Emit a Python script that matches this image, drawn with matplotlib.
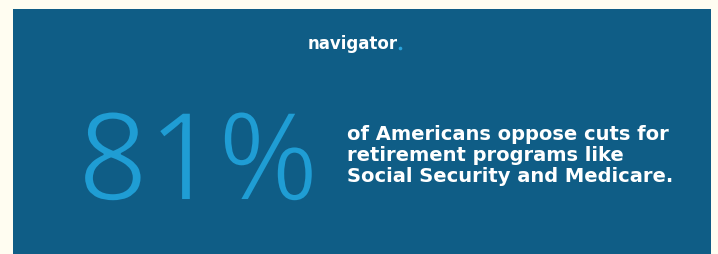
import matplotlib
matplotlib.use("Agg")
import matplotlib.pyplot as plt
import matplotlib.patheffects as pe
from matplotlib.patches import Rectangle

brand = "navigator"
stat_value = "81%"
stat_lines = ["of Americans oppose cuts for",
              "retirement programs like",
              "Social Security and Medicare."]

W, H = 718, 254
BG = "#0f5d86"
fig = plt.figure(figsize=(W / 100, H / 100), dpi=100)
fig.patch.set_facecolor("#fffdf1")
ax = fig.add_axes([0, 0, 1, 1])
ax.set_xlim(0, W)
ax.set_ylim(H, 0)
ax.axis("off")

ax.add_patch(Rectangle((13, 9), 698, 250, facecolor=BG, edgecolor="none"))

bt = ax.text(308, 49, brand, color="white", fontsize=12, fontweight="bold",
             family="DejaVu Sans", ha="left", va="baseline")
fig.canvas.draw()
bb = bt.get_window_extent(fig.canvas.get_renderer())
x_end = ax.transData.inverted().transform((bb.x1, bb.y0))[0]
ax.plot([x_end + 1.5], [47.5], marker="o", markersize=2.6, color="#2aa3dc",
        markeredgewidth=0)

ax.text(78, 200, stat_value, color="#1f9dd4", fontsize=88, fontweight="normal",
        family="Open Sans", ha="left", va="baseline",
        path_effects=[pe.Normal(), pe.Stroke(linewidth=1.4, foreground=BG)])

for i, line in enumerate(stat_lines):
    ax.text(347, 140 + i * 21, line, color="white", fontsize=14, fontweight="bold",
            family="DejaVu Sans", ha="left", va="baseline")

fig.savefig("out.png", dpi=100, facecolor=fig.get_facecolor())
